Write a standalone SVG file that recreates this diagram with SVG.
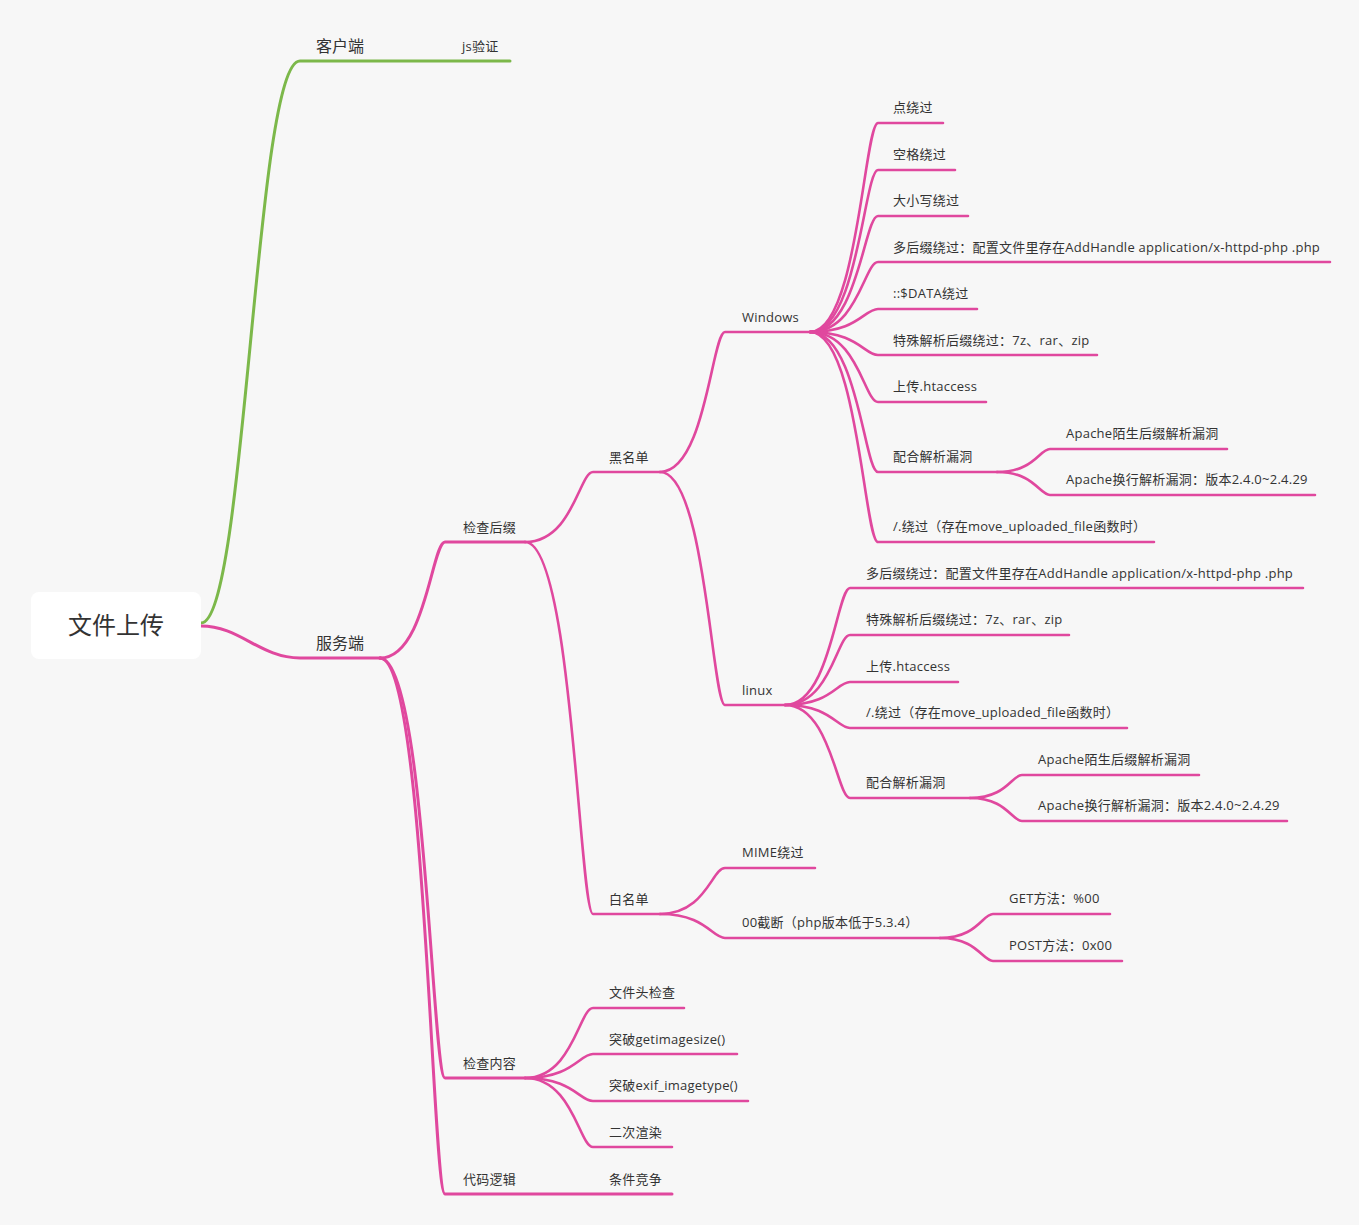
<svg xmlns="http://www.w3.org/2000/svg" width="1359" height="1225" viewBox="0 0 1359 1225">
<style>
.t{font-family:"Open Sans","Noto Sans CJK SC",sans-serif;font-size:13px;fill:#333333;letter-spacing:0.25px}
.t1{font-family:"Open Sans","Noto Sans CJK SC",sans-serif;font-size:16px;fill:#333333}
.root{font-family:"Open Sans","Noto Sans CJK SC",sans-serif;font-size:24px;fill:#333333}
.c{fill:none;stroke:#E0489E;stroke-width:2.6;stroke-linecap:round}
.c1{fill:none;stroke:#E0489E;stroke-width:3;stroke-linecap:round}
.g{fill:none;stroke:#7CB84A;stroke-width:3;stroke-linecap:round}
</style>
<rect x="0" y="0" width="1359" height="1225" fill="#F7F7F7"/>
<g id="connectors">
<path class="g" d="M201 623 C246 623 255 61 300 61 H510"/>
<path class="c1" d="M201 626 C240 626 260 658 300 658 H380"/>
<path class="c1" d="M380 658 C425.5 658 432 542 445 542 H525"/>
<path class="c1" d="M380 658 C425.5 658 432 1078 445 1078 H525"/>
<path class="c1" d="M380 658 C425.5 658 432 1194 445 1194 H672"/>
<path class="c" d="M525 542 C572.6 542 579.4 472 593 472 H660"/>
<path class="c" d="M525 542 C572.6 542 579.4 914 593 914 H660"/>
<path class="c" d="M660 472 C705.5 472 712 332 725 332 H810"/>
<path class="c" d="M660 472 C705.5 472 712 705 725 705 H785"/>
<path class="c" d="M810 332 C857.6 332 864.4 123 878 123 H943"/>
<path class="c" d="M810 332 C857.6 332 864.4 170 878 170 H955"/>
<path class="c" d="M810 332 C857.6 332 864.4 216 878 216 H968"/>
<path class="c" d="M810 332 C857.6 332 864.4 262 878 262 H1330"/>
<path class="c" d="M810 332 C857.6 332 864.4 309 878 309 H977"/>
<path class="c" d="M810 332 C857.6 332 864.4 355 878 355 H1097"/>
<path class="c" d="M810 332 C857.6 332 864.4 402 878 402 H986"/>
<path class="c" d="M810 332 C857.6 332 864.4 472 878 472 H997"/>
<path class="c" d="M810 332 C857.6 332 864.4 542 878 542 H1154"/>
<path class="c" d="M997 472 C1034.1 472 1039.4 449 1050 449 H1227"/>
<path class="c" d="M997 472 C1034.1 472 1039.4 495 1050 495 H1315"/>
<path class="c" d="M785 705 C830.5 705 837 588 850 588 H1303"/>
<path class="c" d="M785 705 C830.5 705 837 635 850 635 H1069"/>
<path class="c" d="M785 705 C830.5 705 837 682 850 682 H958"/>
<path class="c" d="M785 705 C830.5 705 837 728 850 728 H1127"/>
<path class="c" d="M785 705 C830.5 705 837 798 850 798 H970"/>
<path class="c" d="M970 798 C1006.4 798 1011.6 775 1022 775 H1199"/>
<path class="c" d="M970 798 C1006.4 798 1011.6 821 1022 821 H1287"/>
<path class="c" d="M660 914 C705.5 914 712 868 725 868 H815"/>
<path class="c" d="M660 914 C705.5 914 712 938 725 938 H940"/>
<path class="c" d="M940 938 C977.1 938 982.4 914 993 914 H1110"/>
<path class="c" d="M940 938 C977.1 938 982.4 961 993 961 H1122"/>
<path class="c" d="M525 1078 C572.6 1078 579.4 1008 593 1008 H684"/>
<path class="c" d="M525 1078 C572.6 1078 579.4 1054 593 1054 H737"/>
<path class="c" d="M525 1078 C572.6 1078 579.4 1101 593 1101 H748"/>
<path class="c" d="M525 1078 C572.6 1078 579.4 1147 593 1147 H672"/>
</g>
<g id="root"><rect x="31" y="592" width="170" height="67" rx="8" fill="#FFFFFF"/><text class="root" x="116" y="634" text-anchor="middle">文件上传</text></g>
<g id="n-client"><text class="t1" x="316" y="52">客户端</text></g>
<g id="n-js"><text class="t" x="462" y="51">js验证</text></g>
<g id="n-server"><text class="t1" x="316" y="649">服务端</text></g>
<g id="n-suffix"><text class="t" x="463" y="532">检查后缀</text></g>
<g id="n-content"><text class="t" x="463" y="1068">检查内容</text></g>
<g id="n-logic"><text class="t" x="463" y="1184">代码逻辑</text></g>
<g id="n-race"><text class="t" x="609" y="1184">条件竞争</text></g>
<g id="n-black"><text class="t" x="609" y="462">黑名单</text></g>
<g id="n-white"><text class="t" x="609" y="904">白名单</text></g>
<g id="n-windows"><text class="t" x="742" y="322">Windows</text></g>
<g id="n-linux"><text class="t" x="742" y="695">linux</text></g>
<g id="w1"><text class="t" x="893" y="112">点绕过</text></g>
<g id="w2"><text class="t" x="893" y="159">空格绕过</text></g>
<g id="w3"><text class="t" x="893" y="205">大小写绕过</text></g>
<g id="w4"><text class="t" x="893" y="252">多后缀绕过：配置文件里存在AddHandle application/x-httpd-php .php</text></g>
<g id="w5"><text class="t" x="893" y="298">::$DATA绕过</text></g>
<g id="w6"><text class="t" x="893" y="345">特殊解析后缀绕过：7z、rar、zip</text></g>
<g id="w7"><text class="t" x="893" y="391">上传.htaccess</text></g>
<g id="w8"><text class="t" x="893" y="461">配合解析漏洞</text></g>
<g id="w8a"><text class="t" x="1066" y="438">Apache陌生后缀解析漏洞</text></g>
<g id="w8b"><text class="t" x="1066" y="484">Apache换行解析漏洞：版本2.4.0~2.4.29</text></g>
<g id="w9"><text class="t" x="893" y="531">/.绕过（存在move_uploaded_file函数时）</text></g>
<g id="l1"><text class="t" x="866" y="578">多后缀绕过：配置文件里存在AddHandle application/x-httpd-php .php</text></g>
<g id="l2"><text class="t" x="866" y="624">特殊解析后缀绕过：7z、rar、zip</text></g>
<g id="l3"><text class="t" x="866" y="671">上传.htaccess</text></g>
<g id="l4"><text class="t" x="866" y="717">/.绕过（存在move_uploaded_file函数时）</text></g>
<g id="l5"><text class="t" x="866" y="787">配合解析漏洞</text></g>
<g id="l5a"><text class="t" x="1038" y="764">Apache陌生后缀解析漏洞</text></g>
<g id="l5b"><text class="t" x="1038" y="810">Apache换行解析漏洞：版本2.4.0~2.4.29</text></g>
<g id="n-mime"><text class="t" x="742" y="857">MIME绕过</text></g>
<g id="n-00"><text class="t" x="742" y="927">00截断（php版本低于5.3.4）</text></g>
<g id="n-get"><text class="t" x="1009" y="903">GET方法：%00</text></g>
<g id="n-post"><text class="t" x="1009" y="950">POST方法：0x00</text></g>
<g id="c1"><text class="t" x="609" y="997">文件头检查</text></g>
<g id="c2"><text class="t" x="609" y="1044">突破getimagesize()</text></g>
<g id="c3"><text class="t" x="609" y="1090">突破exif_imagetype()</text></g>
<g id="c4"><text class="t" x="609" y="1137">二次渲染</text></g>
</svg>
